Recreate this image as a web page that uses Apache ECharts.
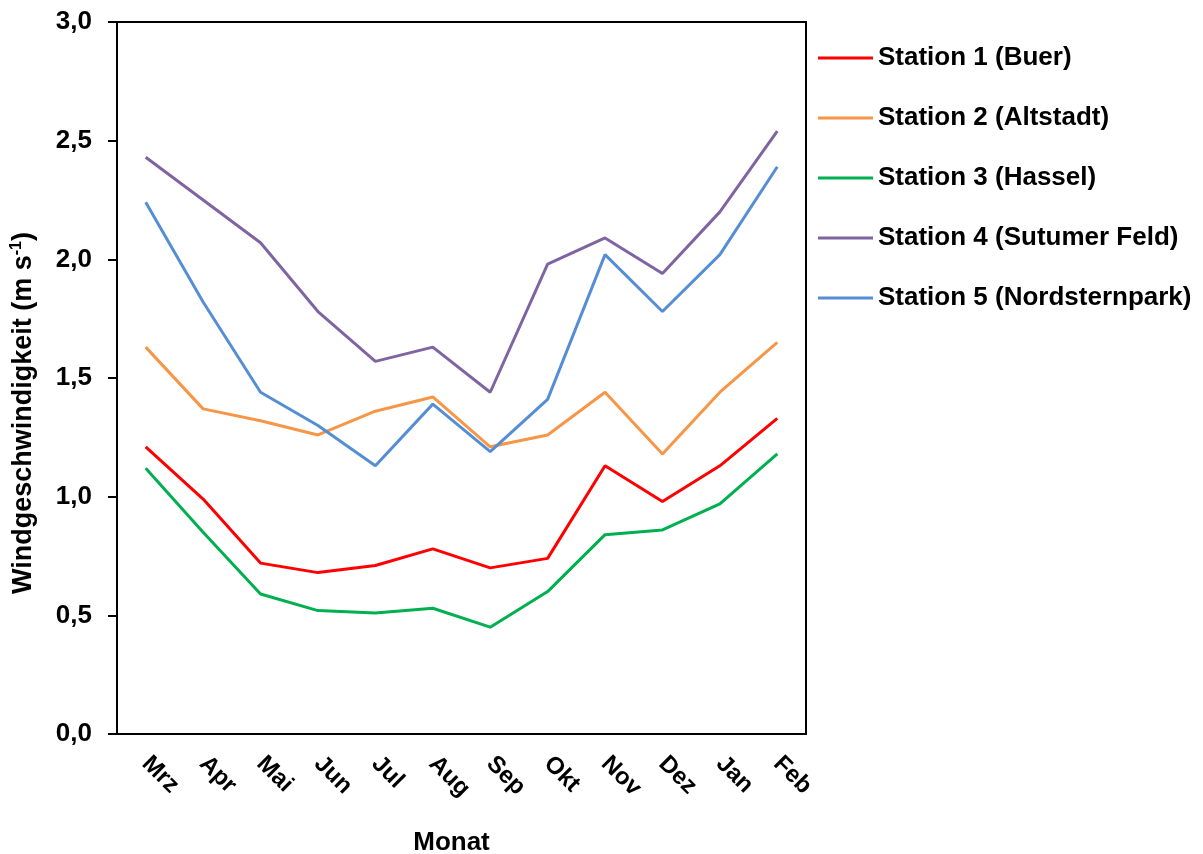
<!DOCTYPE html>
<html>
<head>
<meta charset="utf-8">
<script src="https://cdn.jsdelivr.net/npm/echarts@6/dist/echarts.min.js"></script>
<style>
  html, body { margin: 0; padding: 0; background: #fff; }
  #chart { width: 1203px; height: 854px; }
</style>
</head>
<body>
<div id="chart"></div>
<script>
// Monate (Mrz bis Feb)
const months = ['Mrz', 'Apr', 'Mai', 'Jun', 'Jul', 'Aug', 'Sep', 'Okt', 'Nov', 'Dez', 'Jan', 'Feb']

// Windgeschwindigkeit je Station (m s-1)
const buer          = [1.21, 0.99, 0.72, 0.68, 0.71, 0.78, 0.70, 0.74, 1.13, 0.98, 1.13, 1.33]
const altstadt      = [1.63, 1.37, 1.32, 1.26, 1.36, 1.42, 1.21, 1.26, 1.44, 1.18, 1.44, 1.65]
const hassel        = [1.12, 0.85, 0.59, 0.52, 0.51, 0.53, 0.45, 0.60, 0.84, 0.86, 0.97, 1.18]
const sutumerFeld   = [2.43, 2.25, 2.07, 1.78, 1.57, 1.63, 1.44, 1.98, 2.09, 1.94, 2.20, 2.54]
const nordsternpark = [2.24, 1.82, 1.44, 1.30, 1.13, 1.39, 1.19, 1.41, 2.02, 1.78, 2.02, 2.39]

const stations = [
  { name: 'Station 1 (Buer)',            data: buer,          color: '#ff0000' },
  { name: 'Station 2 (Altstadt)',        data: altstadt,      color: '#f79646' },
  { name: 'Station 3 (Hassel)',          data: hassel,        color: '#00b050' },
  { name: 'Station 4 (Sutumer Feld)',    data: sutumerFeld,   color: '#8064a2' },
  { name: 'Station 5 (Nordsternpark)',   data: nordsternpark, color: '#558ed5' }
]

const font = 'Liberation Sans, Arial, sans-serif'

const chart = echarts.init(document.getElementById('chart'), null, { renderer: 'canvas' })

chart.setOption({
  animation: false,
  backgroundColor: '#fff',
  textStyle: { fontFamily: font },
  grid: {
    left: 117, right: 397, top: 22, bottom: 120,
    outerBoundsMode: 'none',
    containLabel: false,
    show: true, borderColor: '#000', borderWidth: 2
  },
  legend: {
    orient: 'vertical',
    left: 813, top: 38,
    itemWidth: 55, itemHeight: 14, itemGap: 30,
    icon: 'path://M0,6 L55,6 L55,9 L0,9 Z',
    textStyle: { fontFamily: font, fontWeight: 'bold', fontSize: 26, color: '#000', lineHeight: 30 },
    data: stations.map(s => s.name)
  },
  xAxis: {
    type: 'category',
    data: months,
    boundaryGap: true,
    name: 'Monat',
    nameLocation: 'middle',
    nameGap: 96,
    nameTextStyle: { fontFamily: font, fontWeight: 'bold', fontSize: 26, color: '#000', padding: [0, 20, 0, 0] },
    axisLine: { lineStyle: { color: '#000', width: 2 } },
    axisTick: { inside: false, length: 7, lineStyle: { color: '#000', width: 2 } },
    axisLabel: { rotate: -45, margin: 26, fontFamily: font, fontWeight: 'bold', fontSize: 24, color: '#000' },
    splitLine: { show: false }
  },
  yAxis: {
    type: 'value',
    min: 0, max: 3, interval: 0.5,
    name: '{t|Windgeschwindigkeit (m s}{sup|-1}{t|)}',
    nameLocation: 'middle',
    nameRotate: 90,
    nameGap: 78,
    nameTextStyle: {
      fontFamily: font, fontWeight: 'bold', fontSize: 27, color: '#000',
      padding: [0, 70, 0, 0],
      rich: {
        t: { fontFamily: font, fontWeight: 'bold', fontSize: 27, color: '#000', lineHeight: 30 },
        sup: { fontFamily: font, fontWeight: 'bold', fontSize: 16, color: '#000', verticalAlign: 'top', lineHeight: 16 }
      }
    },
    axisLine: { show: true, lineStyle: { color: '#000', width: 2 } },
    axisTick: { show: true, inside: false, length: 9, lineStyle: { color: '#000', width: 2 } },
    axisLabel: {
      margin: 25, fontFamily: font, fontWeight: 'bold', fontSize: 26, color: '#000',
      formatter: v => v.toFixed(1).replace('.', ',')
    },
    splitLine: { show: false }
  },
  series: stations.map(s => ({
    name: s.name,
    type: 'line',
    data: s.data,
    symbol: 'none',
    color: s.color,
    lineStyle: { color: s.color, width: 3 },
    emphasis: { disabled: true }
  }))
})
</script>
</body>
</html>
